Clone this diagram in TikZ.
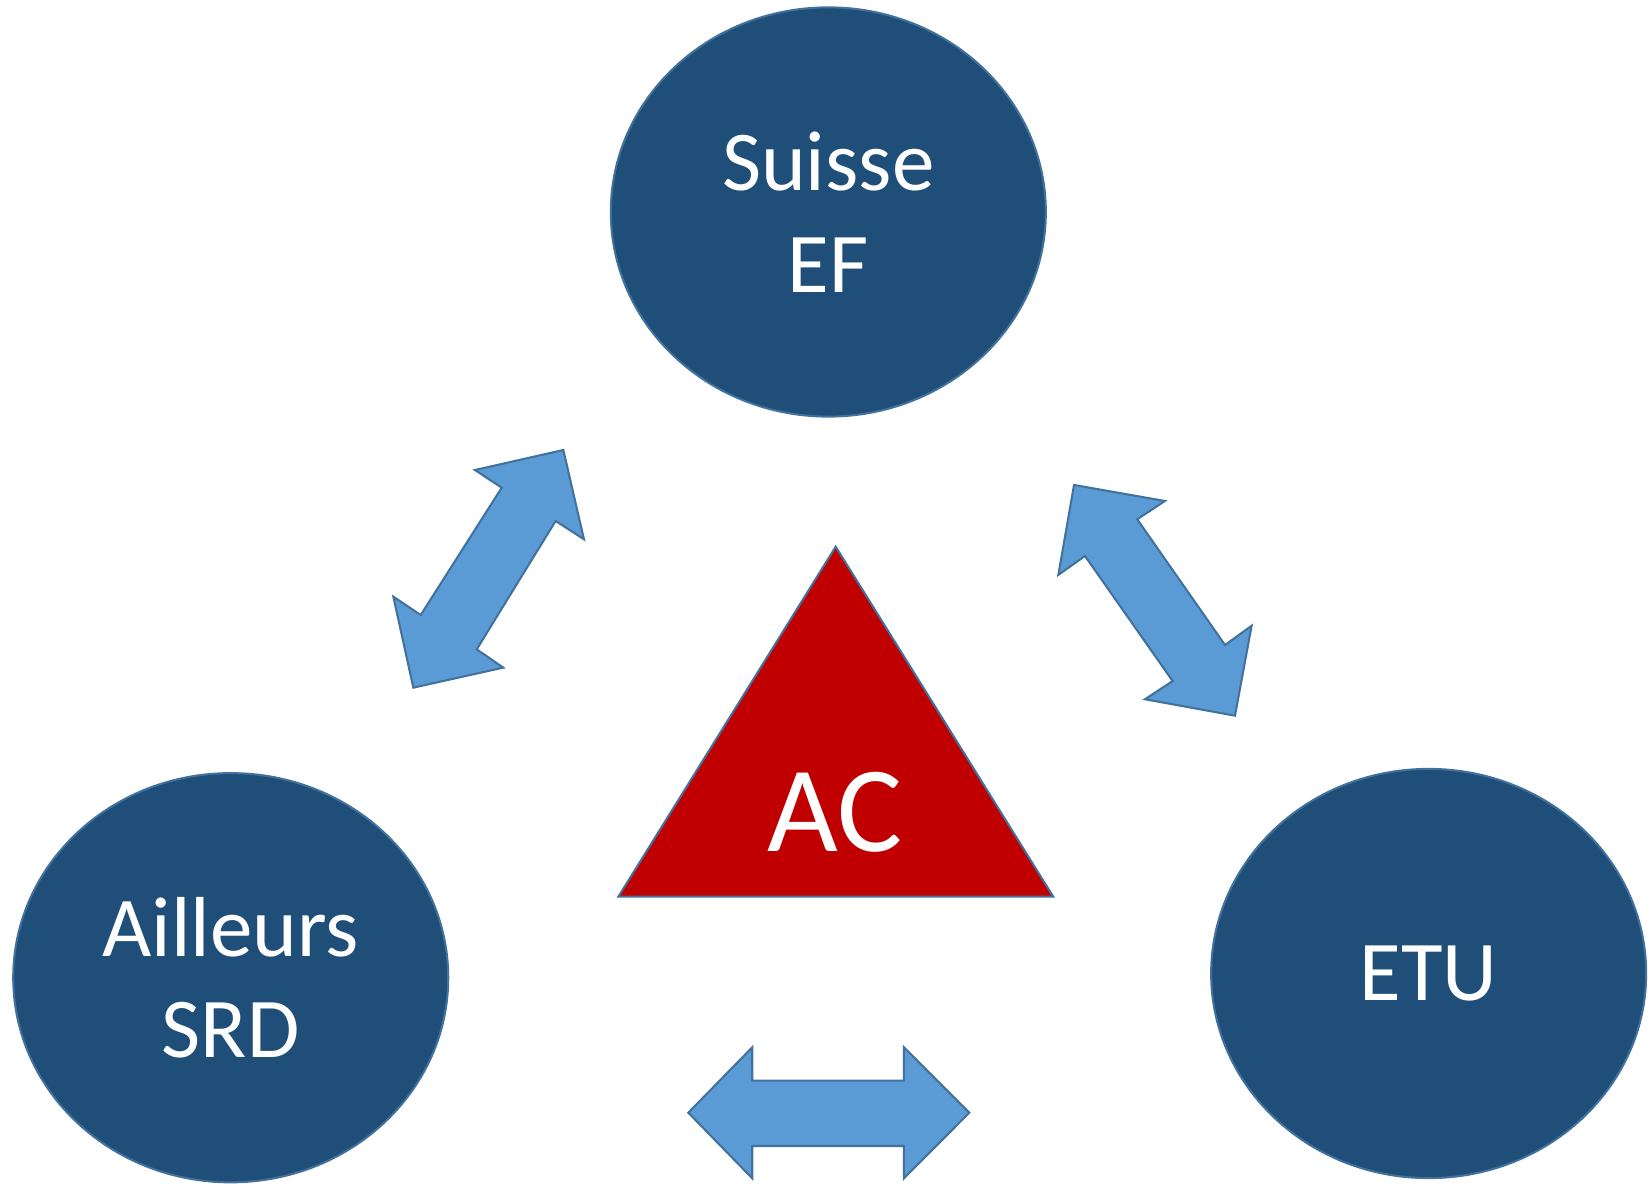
\documentclass[tikz,border=0pt]{standalone}
\usepackage{fontspec}
\setmainfont{Carlito}
\usetikzlibrary{shapes.geometric}
\definecolor{darkblue}{HTML}{1F4E79}
\definecolor{edgeblue}{HTML}{41719C}
\definecolor{arrowblue}{HTML}{5B9BD5}
\definecolor{acred}{HTML}{C00000}
\tikzset{
  bubble/.style={ellipse, draw=edgeblue, fill=darkblue, line width=1.1pt,
    minimum width=8.26cm, minimum height=7.77cm, inner sep=0pt,
    text=white, align=center, font=\fontsize{46}{55}\selectfont},
  blockarrow/.style={draw=edgeblue, fill=arrowblue, line width=1.1pt, line join=miter},
  tri/.style={draw=edgeblue, fill=acred, line width=1.1pt, line join=miter},
}
\begin{document}
\begin{tikzpicture}[x=0.02cm, y=-0.02cm]
\useasboundingbox (0,0) rectangle (1568,1129);
\node[bubble] (suisse) at (786.2,201.2) {Suisse\\EF};
\node[bubble] (ailleurs) at (219,928) {Ailleurs\\SRD};
\node[bubble] (etu) at (1356,924) {ETU};
% triangle
\coordinate (tA) at (793.2,518.9);
\coordinate (tB) at (586.9,851.1);
\coordinate (tC) at (999.7,851.1);
\draw[tri] (tA) -- (tB) -- (tC) -- cycle;
\node[text=white, font=\fontsize{66}{79}\selectfont, anchor=base, inner sep=0pt] (ac) at (792.5,808) {AC};
% left arrow
\draw[blockarrow] (450.8,446.1) -- (534.7,427.1) -- (554.3,511.9) -- (527.4,494.5)
  -- (452.5,616.3) -- (477.7,633.7) -- (392.3,652.7) -- (373.3,566.3)
  -- (399.3,583.7) -- (476.2,462.9) -- cycle;
% right arrow
\draw[blockarrow] (1019.4,460.3) -- (1105.7,475.5) -- (1079.4,492.9) -- (1162.7,612.2)
  -- (1188,593.9) -- (1172.2,679.3) -- (1086.7,663.7) -- (1113,646.4)
  -- (1029.8,527.7) -- (1004.5,545.7) -- cycle;
% bottom arrow
\draw[blockarrow] (653.3,1056.1) -- (714,994) -- (714,1025.7) -- (858,1025.7)
  -- (858,994) -- (920,1056.1) -- (858,1118.4) -- (858,1087.7)
  -- (714,1087.7) -- (714,1118.4) -- cycle;
\end{tikzpicture}
\end{document}
